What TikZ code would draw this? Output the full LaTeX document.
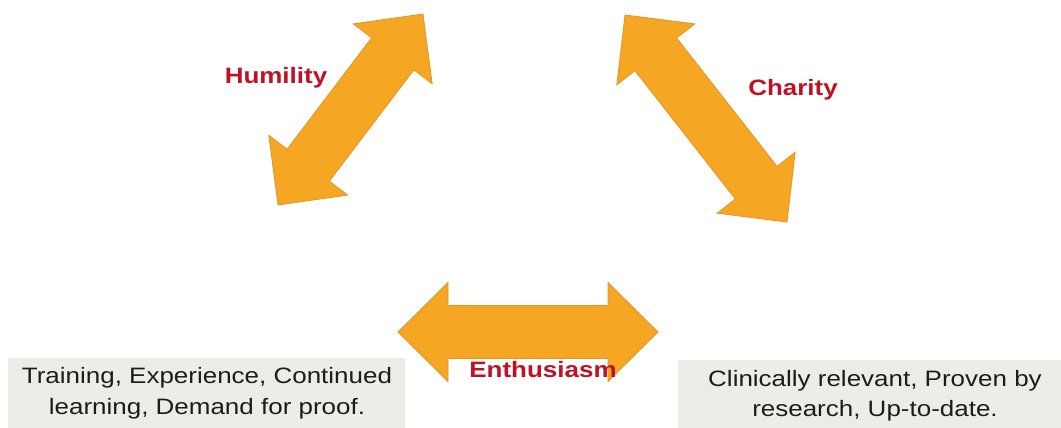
\documentclass[tikz,border=0pt]{standalone}
\usepackage{fontspec}
\setmainfont{Liberation Sans}[FakeStretch=1.165]
\definecolor{arrfill}{RGB}{245,166,35}
\definecolor{arrline}{RGB}{226,150,40}
\definecolor{lblred}{RGB}{192,18,38}
\definecolor{boxgray}{RGB}{237,237,232}
\definecolor{txtdark}{RGB}{28,28,28}
\tikzset{
  arrowsty/.style={fill=arrfill, draw=arrline, line width=0.8pt, line join=miter},
  lbl/.style={font=\fontsize{22.3}{26}\selectfont\bfseries, text=lblred, inner sep=0pt, anchor=base},
  boxsty/.style={fill=boxgray, draw=none, inner sep=0pt, anchor=south west},
  boxtext/.style={font=\fontsize{22.3}{30.7}\selectfont, text=txtdark, align=center, inner sep=0pt}
}
\newcommand\dblarr[3]{%
  \begin{scope}[shift={#1},rotate=#2]
    \filldraw[arrowsty] (0,0) -- (50,49.5) -- (50,26.5) -- (#3-50,26.5) -- (#3-50,49.5) -- (#3,0)
      -- (#3-50,-49.5) -- (#3-50,-26.5) -- (50,-26.5) -- (50,-49.5) -- cycle;
  \end{scope}}
\begin{document}
\begin{tikzpicture}[x=1pt,y=1pt]
\useasboundingbox (0,0) rectangle (1061,428);
\fill[white] (0,0) rectangle (1061,428);
% arrows
\dblarr{(278,223)}{52.8}{239.8}
\dblarr{(625,413)}{-51.96}{262.9}
\dblarr{(398,96)}{0}{260}
% boxes
\node[boxsty, minimum width=397pt, minimum height=70pt] (leftbox) at (8,0) {};
\node[boxsty, minimum width=383pt, minimum height=68pt] (rightbox) at (678,0) {};
\node[boxtext] (lefttext) at (207,34.5) {Training, Experience, Continued\\learning, Demand for proof.};
\node[boxtext] (righttext) at (875,32.3) {Clinically relevant, Proven by\\research, Up-to-date.};
% labels
\node[lbl] (humility) at (276,344) {Humility};
\node[lbl] (charity) at (793,332) {Charity};
\node[lbl] (enthusiasm) at (543,50.3) {Enthusiasm};
\end{tikzpicture}
\end{document}
